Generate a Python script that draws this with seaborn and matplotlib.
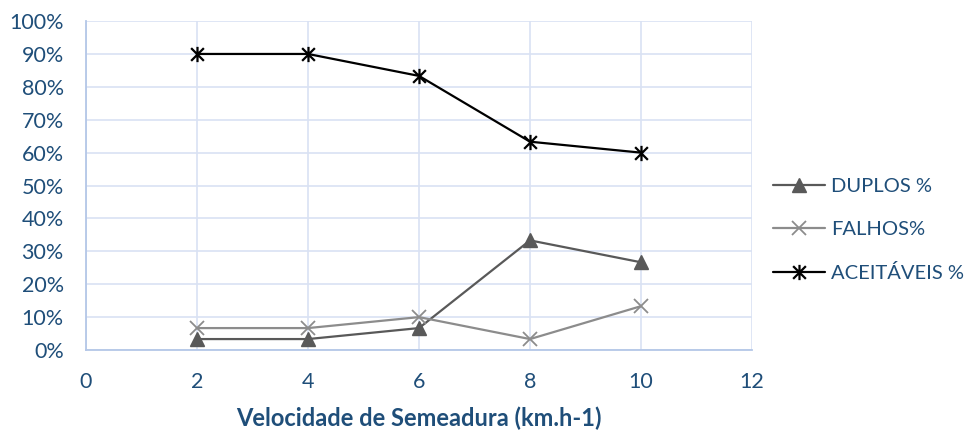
import matplotlib
matplotlib.use("Agg")
import matplotlib.pyplot as plt
import seaborn as sns
import pandas as pd
from matplotlib.ticker import PercentFormatter
from matplotlib.path import Path

velocidade = [2, 4, 6, 8, 10]
duplos = [3.33, 3.33, 6.67, 33.33, 26.67]
falhos = [6.67, 6.67, 10.0, 3.33, 13.33]
aceitaveis = [90.0, 90.0, 83.33, 63.33, 60.0]
series_names = ["DUPLOS %", "FALHOS%", "ACEITÁVEIS %"]
x_ticks = [0, 2, 4, 6, 8, 10, 12]
y_ticks = [0, 10, 20, 30, 40, 50, 60, 70, 80, 90, 100]

sns.set_theme(style="white")
plt.rcParams["font.family"] = ["Lato", "DejaVu Sans"]
text_color = "#1F4E79"
grid_color = "#D9E2F3"
spine_color = "#B4C7E7"

# star marker: X plus vertical bar
star = Path([(-1, -1), (1, 1), (-1, 1), (1, -1), (0, -1.2), (0, 1.2)],
            [Path.MOVETO, Path.LINETO, Path.MOVETO, Path.LINETO, Path.MOVETO, Path.LINETO])

fig = plt.figure(figsize=(9.67, 4.30), dpi=100)
ax = fig.add_axes([0.0889, 0.186, 0.6888, 0.765])

styles = [
    (duplos, "#595959", "^", 10, 1.0),
    (falhos, "#8C8C8C", "x", 10, 1.3),
    (aceitaveis, "#000000", star, 11, 1.6),
]
for (vals, col, mk, ms, mew), name in zip(styles, series_names):
    df = pd.DataFrame({"x": velocidade, "y": vals})
    sns.lineplot(data=df, x="x", y="y", ax=ax, color=col, marker=mk,
                 markersize=ms, markeredgewidth=mew, markeredgecolor=col,
                 linewidth=1.6, label=name)

ax.set_xlim(0, 12)
ax.set_ylim(0, 100)
ax.set_xticks(x_ticks)
ax.set_yticks(y_ticks)
ax.yaxis.set_major_formatter(PercentFormatter(decimals=0))
ax.grid(True, color=grid_color, linewidth=1.2)
ax.set_axisbelow(True)
for s in ["top", "right"]:
    ax.spines[s].set_visible(False)
for s in ["left", "bottom"]:
    ax.spines[s].set_color(spine_color)
    ax.spines[s].set_linewidth(1.3)
ax.tick_params(axis="both", colors=text_color, labelsize=15.5, length=0)
ax.tick_params(axis="x", pad=16)
ax.tick_params(axis="y", pad=16)
ax.set_xlabel("Velocidade de Semeadura (km.h-1)", fontsize=17,
              fontweight="bold", color=text_color, labelpad=10)
ax.set_ylabel("")

leg = ax.legend(loc="center left", bbox_to_anchor=(1.031, 0.365), frameon=False,
                fontsize=14.5, labelspacing=1.3, handlelength=2.6,
                handletextpad=0.3, borderaxespad=0, borderpad=0)
for t in leg.get_texts():
    t.set_color(text_color)

fig.savefig("out.png", dpi=100)
